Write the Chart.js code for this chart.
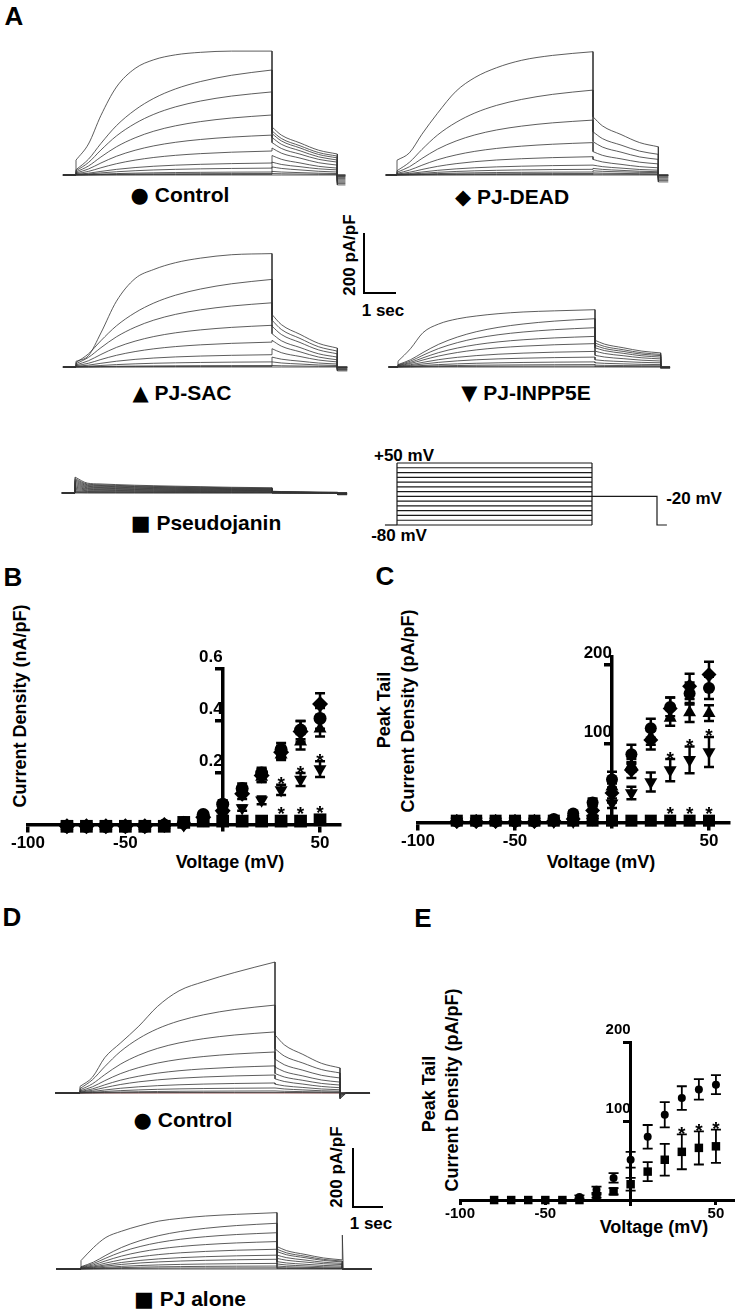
<!DOCTYPE html>
<html>
<head>
<meta charset="utf-8">
<title>Pseudojanin currents</title>
<script src="https://cdn.jsdelivr.net/npm/chart.js@4.4.1/dist/chart.umd.min.js"></script>
<style>
  html, body { margin: 0; padding: 0; background: #fff; }
  #page { position: relative; width: 739px; height: 1313px; overflow: hidden;
          font-family: "Liberation Sans", Arial, sans-serif; font-weight: bold; color: #000; }
  canvas { position: absolute; }
  .t { position: absolute; white-space: nowrap; line-height: 1; transform: translate(-50%, -50%); }
  .r { transform: translate(-50%, -50%) rotate(-90deg); }
  .bar { position: absolute; background: #000; }
  .sym { font-family: "DejaVu Sans", sans-serif; }
</style>
</head>
<body>
<div id="page">
  <!-- panel letters -->
  <div class="t" style="left:14px;top:16px;font-size:26px">A</div>
  <div class="t" style="left:13px;top:577px;font-size:26px">B</div>
  <div class="t" style="left:385px;top:576px;font-size:26px">C</div>
  <div class="t" style="left:12px;top:917px;font-size:26px">D</div>
  <div class="t" style="left:423px;top:918px;font-size:26px">E</div>

  <!-- trace labels -->
  <div class="t" style="left:180px;top:195px;font-size:21px"><span class="sym">●</span> Control</div>
  <div class="t" style="left:512px;top:197px;font-size:21px"><span class="sym">◆</span> PJ-DEAD</div>
  <div class="t" style="left:182px;top:393px;font-size:21px"><span class="sym">▲</span> PJ-SAC</div>
  <div class="t" style="left:526px;top:393px;font-size:21px"><span class="sym">▼</span> PJ-INPP5E</div>
  <div class="t" style="left:206px;top:523px;font-size:21px"><span class="sym">■</span> Pseudojanin</div>
  <div class="t" style="left:183px;top:1120px;font-size:21px"><span class="sym">●</span> Control</div>
  <div class="t" style="left:190px;top:1299px;font-size:21px"><span class="sym">■</span> PJ alone</div>

  <!-- scale bars -->
  <div class="bar" style="left:363px;top:233px;width:2px;height:61px"></div>
  <div class="bar" style="left:363px;top:292px;width:33px;height:2px"></div>
  <div class="t r" style="left:349px;top:255px;font-size:17px">200 pA/pF</div>
  <div class="t" style="left:383px;top:310px;font-size:17px">1 sec</div>
  <div class="bar" style="left:352px;top:1148px;width:2px;height:60px"></div>
  <div class="bar" style="left:352px;top:1206px;width:31px;height:2px"></div>
  <div class="t r" style="left:336px;top:1167px;font-size:17px">200 pA/pF</div>
  <div class="t" style="left:371px;top:1223px;font-size:17px">1 sec</div>

  <!-- protocol labels -->
  <div class="t" style="left:404px;top:455px;font-size:17px">+50 mV</div>
  <div class="t" style="left:694px;top:498px;font-size:17px">-20 mV</div>
  <div class="t" style="left:399px;top:535px;font-size:17px">-80 mV</div>

  <!-- axis titles -->
  <div class="t r" style="left:20px;top:706px;font-size:18px">Current Density (nA/pF)</div>
  <div class="t" style="left:230px;top:862px;font-size:18px">Voltage (mV)</div>
  <div class="t r" style="left:384px;top:710px;font-size:18px">Peak Tail</div>
  <div class="t r" style="left:408px;top:711px;font-size:18px">Current Density (pA/pF)</div>
  <div class="t" style="left:601px;top:862px;font-size:18px">Voltage (mV)</div>
  <div class="t r" style="left:429px;top:1094px;font-size:18px">Peak Tail</div>
  <div class="t r" style="left:452px;top:1090px;font-size:18px">Current Density (pA/pF)</div>
  <div class="t" style="left:654px;top:1227px;font-size:18px">Voltage (mV)</div>
</div>
<script>
// ---------- I-V data ----------
const voltages = [-80, -70, -60, -50, -40, -30, -20, -10, 0, 10, 20, 30, 40, 50];
const xTicks = [-100, -50, 50];
const sigVolts = [30, 40, 50];

// B: current density (nA/pF)
const ctlB     = [-0.005, -0.005, -0.005, -0.005, -0.005, 0, 0.01, 0.04, 0.08, 0.14, 0.2, 0.29, 0.365, 0.41];
const ctlBErr  = [0, 0, 0, 0, 0, 0, 0.005, 0.01, 0.015, 0.02, 0.02, 0.025, 0.035, 0.04];
const deadB    = [-0.005, -0.005, -0.005, -0.005, -0.005, 0, 0.005, 0.03, 0.055, 0.12, 0.19, 0.28, 0.36, 0.465];
const deadBErr = [0, 0, 0, 0, 0, 0, 0, 0.01, 0.015, 0.02, 0.025, 0.025, 0.04, 0.042];
const sacB     = [-0.005, -0.005, -0.005, -0.005, -0.005, 0, 0.005, 0.02, 0.06, 0.13, 0.185, 0.27, 0.32, 0.37];
const sacBErr  = [0, 0, 0, 0, 0, 0, 0, 0.01, 0.01, 0.015, 0.02, 0.02, 0.03, 0.03];
const inpB     = [-0.005, -0.005, -0.005, -0.005, -0.005, 0, 0, 0.02, 0.04, 0.065, 0.095, 0.135, 0.175, 0.215];
const inpBErr  = [0, 0, 0, 0, 0, 0, 0, 0.005, 0.01, 0.01, 0.015, 0.02, 0.025, 0.03];
const sqB      = [-0.005, -0.005, -0.005, -0.005, -0.005, -0.005, 0.01, 0.015, 0.015, 0.015, 0.015, 0.015, 0.015, 0.02];
const bTicks   = [0.2, 0.4, 0.6];

// C: peak tail current density (pA/pF)
const ctlC     = [2, 2, 2, 2, 2, 5, 12, 26, 55, 87, 120, 147, 164, 171];
const ctlCErr  = [0, 0, 0, 0, 0, 2, 3, 5, 10, 12, 12, 12, 14, 14];
const deadC    = [2, 2, 2, 2, 2, 3, 5, 16, 38, 67, 105, 145, 173, 188];
const deadCErr = [0, 0, 0, 0, 0, 0, 3, 6, 12, 10, 12, 14, 16, 16];
const sacC     = [2, 2, 2, 2, 2, 2, 4, 10, 46, 73, 109, 133, 140, 139];
const sacCErr  = [0, 0, 0, 0, 0, 0, 0, 4, 8, 8, 10, 10, 12, 10];
const inpC     = [2, 2, 2, 2, 2, 2, 2, 5, 25, 38, 52, 67, 80, 90];
const inpCErr  = [0, 0, 0, 0, 0, 0, 0, 2, 6, 8, 12, 14, 17, 19];
const sqC      = [3, 3, 3, 3, 3, 3, 3, 3, 3, 3, 3, 3, 3, 3];
const cTicks   = [100, 200];

// E: peak tail current density (pA/pF)
const ctlE     = [0, 0, 0, 0, 0, 4, 13, 28, 51, 80, 108, 129, 140, 146];
const ctlEErr  = [0, 0, 0, 0, 0, 2, 4, 6, 10, 15, 16, 15, 13, 12];
const sqE      = [0, 0, 0, 0, 0, 0, 5, 11, 20, 36, 51, 61, 66, 68];
const sqEErr   = [0, 0, 0, 0, 0, 0, 2, 4, 8, 12, 20, 22, 21, 21];
const eTicks   = [100, 200];

// ---------- current traces (pA/pF), largest sweep first ----------
const stepTimes = [0, 0.4, 0.8, 1.3, 1.9, 2.5, 3.2, 4.0, 5.0, 6.3];   // s into test pulse
const tailTimes = [0, 0.3, 0.9, 1.5, 2.1];                            // s into -20 mV tail
const tailDecay = [1, 0.7, 0.41, 0.14, 0];
const lowShape  = [0.05, 0.15, 0.3, 0.47, 0.62, 0.73, 0.82, 0.89, 0.95, 1];

const ctlAShape = [0.12, 0.25, 0.48, 0.71, 0.86, 0.93, 0.97, 0.99, 1, 1];
const ctlAStep  = [413, 350, 277, 200, 133, 80, 40, 23, 10, 5, 2, 0];
const ctlATail0 = [160, 147, 138, 125, 108, 90, 65, 43, 27, 12, 5, 0];
const ctlATail1 = [70, 63, 57, 50, 43, 33, 23, 17, 10, 5, 2, 0];
const ctlAPost  = [-33, -28, -24, -20, -16, -12, -8, -5, -3, -1, 0, 0];

const deadAShape = [0.12, 0.18, 0.33, 0.5, 0.68, 0.79, 0.87, 0.93, 0.97, 1];
const deadAStep  = [411, 283, 183, 108, 61, 33, 19, 10, 5, 2, 0];
const deadATail0 = [194, 144, 111, 78, 52, 33, 22, 14, 7, 3, 0];
const deadATail1 = [94, 69, 52, 37, 24, 16, 11, 8, 4, 2, 0];
const deadAPost  = [-23, -18, -14, -10, -7, -4, -2, -1, 0, 0, 0];

const sacAShape = [0.05, 0.1, 0.3, 0.58, 0.78, 0.86, 0.92, 0.96, 0.99, 1];
const sacAStep  = [378, 292, 214, 139, 83, 41, 17, 5, 2, 0];
const sacATail0 = [175, 156, 136, 111, 89, 61, 33, 17, 5, 0];
const sacATail1 = [63, 53, 44, 33, 24, 17, 10, 5, 2, 0];
const sacAPost  = [-13, -10, -8, -6, -4, -2, -1, 0, 0, 0];

const inpAShape = [0.1, 0.32, 0.6, 0.75, 0.84, 0.89, 0.93, 0.96, 0.98, 1];
const inpAStep  = [191, 161, 131, 102, 78, 52, 33, 17, 8, 3, 0];
const inpATail0 = [89, 80, 72, 64, 53, 39, 24, 14, 6, 2, 0];
const inpATail1 = [47, 42, 38, 33, 27, 20, 14, 8, 4, 1, 0];
const inpAPost  = [-4, -3, -2, -2, -1, -1, 0, 0, 0, 0, 0];

const pjAShape = [1, 0.62, 0.57, 0.53, 0.49, 0.46, 0.43, 0.4, 0.36, 0.33];
const pjAStep  = [53, 48, 44, 40, 36, 32, 28, 24, 20, 16, 12, 8, 5, 2, 0];
const pjATail0 = [6, 5, 5, 4, 4, 3, 3, 2, 2, 1, 1, 1, 0, 0, 0];
const pjATail1 = [2, 2, 2, 1, 1, 1, 1, 1, 0, 0, 0, 0, 0, 0, 0];
const pjAPost  = [-6, -5, -5, -4, -4, -3, -2, -2, -1, -1, 0, 0, 0, 0, 0];

const ctlDShape = [0.05, 0.12, 0.27, 0.38, 0.51, 0.66, 0.78, 0.85, 0.92, 1];
const ctlDStep  = [444, 298, 207, 139, 92, 61, 34, 17, 7, 2, 0];
const ctlDTail0 = [197, 150, 115, 88, 66, 48, 30, 17, 7, 2, 0];
const ctlDTail1 = [85, 68, 51, 37, 27, 18, 11, 6, 3, 1, 0];
const ctlDPost  = [-20, -16, -12, -9, -6, -4, -2, -1, 0, 0, 0];

const pjDShape = [0.15, 0.38, 0.56, 0.67, 0.77, 0.85, 0.9, 0.94, 0.97, 1];
const pjDStep  = [191, 155, 123, 93, 67, 47, 33, 19, 10, 4, 0];
const pjDTail0 = [76, 67, 59, 47, 36, 25, 17, 10, 5, 2, 0];
const pjDTail1 = [31, 27, 24, 19, 15, 10, 6, 3, 2, 1, 0];
const pjDPost  = [115, 0, 0, 0, 0, 0, 0, 0, 0, 0, 0];

// voltage protocol (mV)
const stepLevels = [-80, -70, -60, -50, -40, -30, -20, -10, 0, 10, 20, 30, 40, 50];
const holdLevel = -80;
const tailLevel = -20;

// ---------- helpers ----------
Chart.defaults.font.family = '"Liberation Sans", Arial, sans-serif';
Chart.defaults.color = '#000';

const page = document.getElementById('page');
const STEP_END = stepTimes[stepTimes.length - 1];
const TAIL_END = STEP_END + tailTimes[tailTimes.length - 1];

function makeCanvas(box) {
  const cv = document.createElement('canvas');
  cv.width = box.width;
  cv.height = box.height;
  cv.style.left = box.left + 'px';
  cv.style.top = box.top + 'px';
  cv.style.width = box.width + 'px';
  cv.style.height = box.height + 'px';
  page.appendChild(cv);
  return cv;
}

// time/value range of a bare canvas so that step start/end and baseline land on given pixels
function traceScales(box) {
  const pxPerSec = (box.x1 - box.x0) / STEP_END;
  return {
    x: {type: 'linear', display: false,
        min: (box.left - box.x0) / pxPerSec, max: (box.left + box.width - box.x0) / pxPerSec},
    y: {type: 'linear', display: false,
        min: (box.base - box.top - box.height) / box.unit, max: (box.base - box.top) / box.unit}
  };
}

// one sweep split in pieces: straight jumps and smooth curves
function sweepParts(set, i) {
  const shape = (i === 0 || set.allTop) ? set.shape : lowShape;
  const step = stepTimes.map((t, k) => ({x: t, y: set.step[i] * shape[k]}));
  const tail = tailTimes.map((t, k) => ({
    x: STEP_END + t,
    y: set.tail1[i] + (set.tail0[i] - set.tail1[i]) * tailDecay[k]
  }));
  const post = set.post[i];
  return [
    {curve: false, pts: [{x: -set.pre, y: 0}, {x: 0, y: 0}, step[0]]},
    {curve: true, pts: step},
    {curve: false, pts: [step[step.length - 1], tail[0]]},
    {curve: true, pts: tail},
    {curve: false, pts: [tail[tail.length - 1], {x: TAIL_END, y: post},
                         {x: TAIL_END + set.settle, y: post * set.keep},
                         {x: TAIL_END + set.postDur, y: post * set.keep}]}
  ];
}

function traceChart(set, box) {
  const cv = makeCanvas(box);
  const datasets = [];
  set.step.forEach((_, i) => {
    const color = (set.baseColor && i === set.step.length - 1) ? set.baseColor : '#333';
    sweepParts(set, i).forEach(part => datasets.push({
      data: part.pts,
      borderColor: color,
      borderWidth: 0.8,
      pointRadius: 0,
      cubicInterpolationMode: part.curve ? 'monotone' : 'default',
      tension: 0,
      fill: false,
      clip: false
    }));
  });
  return new Chart(cv, {
    type: 'line',
    data: {datasets},
    options: {
      responsive: false, devicePixelRatio: 1, animation: false,
      layout: {padding: 0},
      plugins: {legend: {display: false}, tooltip: {enabled: false}},
      scales: traceScales(box)
    }
  });
}

function protocolChart(box) {
  const cv = makeCanvas(box);
  const line = pts => ({data: pts, borderColor: '#1a1a1a', borderWidth: 1.2, pointRadius: 0,
                        tension: 0, fill: false, clip: false});
  const top = stepLevels[stepLevels.length - 1];
  const datasets = stepLevels.map(v => line([{x: 0, y: v}, {x: STEP_END, y: v}]));
  datasets.push(line([{x: 0, y: holdLevel}, {x: 0, y: top}]));
  datasets.push(line([{x: STEP_END, y: holdLevel}, {x: STEP_END, y: top}]));
  datasets.push(line([{x: -box.pre, y: holdLevel}, {x: 0, y: holdLevel}]));
  datasets.push(line([{x: STEP_END, y: tailLevel}, {x: TAIL_END, y: tailLevel},
                      {x: TAIL_END, y: holdLevel}, {x: TAIL_END + box.post, y: holdLevel}]));
  return new Chart(cv, {
    type: 'line',
    data: {datasets},
    options: {
      responsive: false, devicePixelRatio: 1, animation: false,
      layout: {padding: 0},
      plugins: {legend: {display: false}, tooltip: {enabled: false}},
      scales: traceScales(box)
    }
  });
}

// error bars and significance stars, drawn from the data through the scales
const errorBarPlugin = {
  id: 'errorBars',
  afterDatasetsDraw(chart, args, opts) {
    const {ctx} = chart;
    const xs = chart.scales.x, ys = chart.scales.y;
    ctx.save();
    ctx.strokeStyle = '#000';
    ctx.fillStyle = '#000';
    ctx.lineWidth = opts.width;
    chart.data.datasets.forEach(ds => {
      ds.data.forEach((p, i) => {
        const e = ds.err ? ds.err[i] : 0;
        if (!e) return;
        const px = xs.getPixelForValue(p.x);
        const top = ys.getPixelForValue(p.y + e), bot = ys.getPixelForValue(p.y - e);
        ctx.beginPath();
        ctx.moveTo(px, top); ctx.lineTo(px, bot);
        ctx.moveTo(px - opts.cap, top); ctx.lineTo(px + opts.cap, top);
        ctx.moveTo(px - opts.cap, bot); ctx.lineTo(px + opts.cap, bot);
        ctx.stroke();
      });
      ctx.font = 'bold ' + opts.star + 'px "Liberation Sans", Arial, sans-serif';
      ctx.textAlign = 'center';
      ctx.textBaseline = 'alphabetic';
      (ds.sig || []).forEach(v => {
        const i = voltages.indexOf(v);
        const p = ds.data[i];
        const e = ds.err ? ds.err[i] : 0;
        const px = xs.getPixelForValue(p.x);
        const top = Math.min(ys.getPixelForValue(p.y + e), ys.getPixelForValue(p.y) - ds.pointRadius * 0.75);
        ctx.fillText('*', px, top + 5.5);
      });
    });
    ctx.restore();
  }
};

function ivChart(box, area, yMin, yMax, yTicks, series, look) {
  const cv = makeCanvas(box);
  const pad = {
    left: area.l - box.left, top: area.t - box.top,
    right: box.left + box.width - area.r, bottom: box.top + box.height - area.b
  };
  const ticks = {color: '#000', font: {weight: 'bold', size: look.font}, padding: look.pad || 2,
                 maxRotation: 0, autoSkip: false, callback: v => String(v)};
  const grid = {drawOnChartArea: false, drawTicks: true, tickLength: 6, lineWidth: look.axis, color: '#000'};
  const border = {display: true, width: look.axis, color: '#000'};
  return new Chart(cv, {
    type: 'scatter',
    data: {
      datasets: series.map(s => ({
        data: voltages.map((v, i) => ({x: v, y: s.values[i]})),
        err: s.err,
        sig: s.sig,
        pointStyle: s.style,
        pointRadius: s.r,
        pointRotation: s.rot || 0,
        backgroundColor: '#000',
        borderColor: '#000',
        borderWidth: 0,
        clip: false
      }))
    },
    options: {
      responsive: false, devicePixelRatio: 1, animation: false,
      layout: {padding: pad},
      plugins: {
        legend: {display: false}, tooltip: {enabled: false},
        errorBars: {width: look.bar, cap: look.cap, star: look.star}
      },
      scales: {
        x: {type: 'linear', min: -100, max: 60, position: {y: 0},
            afterBuildTicks: ax => { ax.ticks = xTicks.map(v => ({value: v})); },
            grid: {...grid, tickLength: look.xTick || 6}, border, ticks: {...ticks, padding: 2}},
        y: {type: 'linear', min: yMin, max: yMax, position: {x: 0},
            afterBuildTicks: ax => { ax.ticks = yTicks.map(v => ({value: v})); },
            grid, border, ticks: {...ticks, labelOffset: -12}}
      }
    },
    plugins: [errorBarPlugin]
  });
}

// ---------- A: traces ----------
traceChart({shape: ctlAShape, step: ctlAStep, tail0: ctlATail0, tail1: ctlATail1, post: ctlAPost,
            pre: 0.42, settle: 0.26, postDur: 0.26, keep: 1},
           {left: 55, top: 40, width: 300, height: 155, x0: 76, x1: 272, base: 175, unit: 0.3});
traceChart({shape: deadAShape, step: deadAStep, tail0: deadATail0, tail1: deadATail1, post: deadAPost,
            pre: 0.36, settle: 0.32, postDur: 0.32, keep: 1},
           {left: 375, top: 40, width: 305, height: 155, x0: 397, x1: 593, base: 175, unit: 0.3});
traceChart({shape: sacAShape, step: sacAStep, tail0: sacATail0, tail1: sacATail1, post: sacAPost,
            pre: 0.42, settle: 0.32, postDur: 0.32, keep: 1},
           {left: 55, top: 235, width: 300, height: 150, x0: 76, x1: 272, base: 367, unit: 0.3});
traceChart({shape: inpAShape, step: inpAStep, tail0: inpATail0, tail1: inpATail1, post: inpAPost,
            pre: 0.3, settle: 0.3, postDur: 0.3, keep: 1},
           {left: 375, top: 235, width: 305, height: 150, x0: 398, x1: 595, base: 367, unit: 0.3});
traceChart({shape: pjAShape, allTop: true, step: pjAStep, tail0: pjATail0, tail1: pjATail1, post: pjAPost,
            pre: 0.42, settle: 0.3, postDur: 0.3, keep: 1},
           {left: 55, top: 455, width: 300, height: 50, x0: 75, x1: 272, base: 493, unit: 0.3});
protocolChart({left: 375, top: 450, width: 305, height: 90, x0: 397, x1: 592,
               base: 525 - 80 * 62 / 130, unit: 62 / 130, pre: 0.39, post: 0.32});

// ---------- B, C: I-V ----------
ivChart({left: 0, top: 630, width: 365, height: 235}, {l: 28, r: 339.5, t: 669, b: 830.2},
  -0.02, 0.6, bTicks, [
    {values: ctlB, err: ctlBErr, style: 'circle', r: 6.5},
    {values: deadB, err: deadBErr, style: 'rectRot', r: 8},
    {values: sacB, err: sacBErr, style: 'triangle', r: 7.5},
    {values: inpB, err: inpBErr, style: 'triangle', r: 7.5, rot: 180, sig: sigVolts},
    {values: sqB, style: 'rect', r: 9, sig: sigVolts}
  ], {font: 17, axis: 3.5, bar: 2.5, cap: 5, star: 19});

ivChart({left: 380, top: 620, width: 359, height: 240}, {l: 418, r: 728.4, t: 656.3, b: 827},
  -5, 211, cTicks, [
    {values: ctlC, err: ctlCErr, style: 'circle', r: 6},
    {values: deadC, err: deadCErr, style: 'rectRot', r: 7.5},
    {values: sacC, err: sacCErr, style: 'triangle', r: 7.5},
    {values: inpC, err: inpCErr, style: 'triangle', r: 7.5, rot: 180, sig: sigVolts},
    {values: sqC, style: 'rect', r: 8.5, sig: sigVolts}
  ], {font: 17, axis: 3.5, bar: 2.5, cap: 5, star: 19});

// ---------- D: traces ----------
traceChart({shape: ctlDShape, step: ctlDStep, tail0: ctlDTail0, tail1: ctlDTail1, post: ctlDPost,
            pre: 0.8, settle: 0.2, postDur: 0.97, keep: 0, baseColor: '#7b2b2b'},
           {left: 45, top: 945, width: 335, height: 165, x0: 80, x1: 275, base: 1093, unit: 0.295});
traceChart({shape: pjDShape, step: pjDStep, tail0: pjDTail0, tail1: pjDTail1, post: pjDPost,
            pre: 0.8, settle: 0.03, postDur: 0.95, keep: 0},
           {left: 45, top: 1195, width: 335, height: 85, x0: 81, x1: 277, base: 1269, unit: 0.295});

// ---------- E: I-V ----------
ivChart({left: 420, top: 1000, width: 319, height: 240}, {l: 460, r: 735.2, t: 1042, b: 1204},
  -5, 200, eTicks, [
    {values: ctlE, err: ctlEErr, style: 'circle', r: 4},
    {values: sqE, err: sqEErr, style: 'rect', r: 6, sig: sigVolts}
  ], {font: 15, axis: 3, bar: 1.8, cap: 5, star: 19, xTick: 3});
</script>
</body>
</html>
